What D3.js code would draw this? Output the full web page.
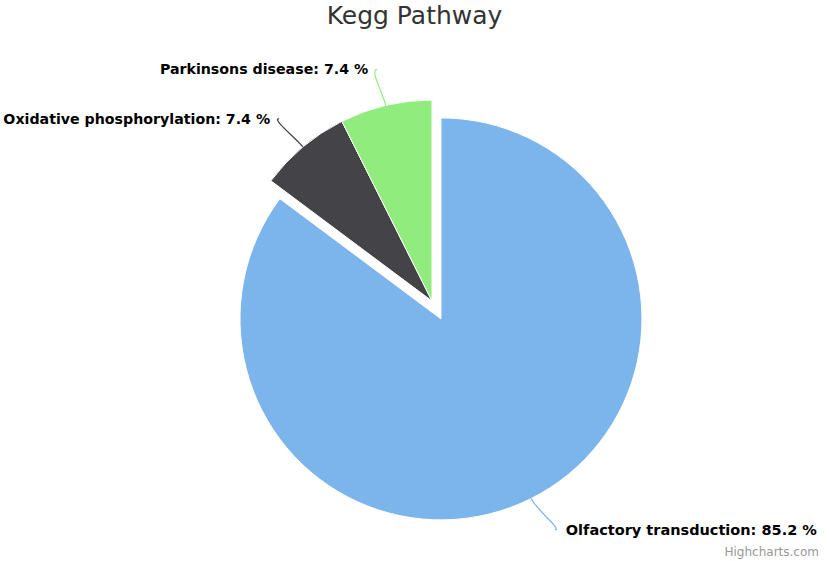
<!DOCTYPE html>
<html>
<head>
<meta charset="utf-8">
<script src="https://cdn.jsdelivr.net/npm/d3@7"></script>
<style>
  body { margin: 0; background: #fff; }
  svg { display: block; font-family: "DejaVu Sans", sans-serif; }
</style>
</head>
<body>
<div id="chart"><svg width="829" height="561"></svg></div>
<script>
// Data
let names = ["Olfactory transduction", "Oxidative phosphorylation", "Parkinsons disease"];
let shares = [85.2, 7.4, 7.4];
let colors = ["#7cb5ec", "#434348", "#90ed7d"];
let sliced = [true, false, false];

let svg = d3.select("div#chart svg"),
  width = +svg.attr("width"),
  height = +svg.attr("height");

let cx = 432, cy = 301, radius = 201, slicedOffset = 20, labelRadius = 238, labelShift = 4;

let data = names.map((n, i) => ({ name: n, y: shares[i], color: colors[i], sliced: sliced[i] }));

let pie = d3.pie().sort(null).value(d => d.y);
let arc = d3.arc().innerRadius(0).outerRadius(radius);
let arcs = pie(data);

// Title
svg.append("text")
  .attr("x", width / 2)
  .attr("y", 24)
  .attr("text-anchor", "middle")
  .style("font-size", "25px")
  .style("fill", "#333333")
  .text("Kegg Pathway");

let g = svg.append("g").attr("transform", "translate(" + cx + "," + cy + ")");

// helper: point along the middle angle of a slice
let mid = d => (d.startAngle + d.endAngle) / 2;
let offsetOf = d => d.data.sliced ? slicedOffset : 0;
let polar = (d, r) => {
  let a = mid(d), o = offsetOf(d);
  return [Math.sin(a) * (r + o), -Math.cos(a) * (r + o)];
};

// Slices
g.selectAll("path.slice")
  .data(arcs)
  .enter()
  .append("path")
    .attr("class", "slice")
    .attr("transform", d => {
      let a = mid(d), o = offsetOf(d);
      return "translate(" + (Math.sin(a) * o) + "," + (-Math.cos(a) * o) + ")";
    })
    .attr("d", arc)
    .attr("fill", d => d.data.color)
    .attr("stroke", "#ffffff")
    .attr("stroke-width", 1)
    .attr("stroke-linejoin", "round");

// Connectors + labels
arcs.forEach(d => {
  let a = mid(d), o = offsetOf(d);
  let side = Math.sin(a) >= 0 ? 1 : -1;
  let edge = polar(d, radius);
  let near = polar(d, radius + 14);
  let lab = [Math.sin(a) * labelRadius + Math.sin(a) * o * 0.9 + labelShift, -Math.cos(a) * labelRadius - Math.cos(a) * o * 0.9];
  let start = [lab[0] + side * 4, lab[1]];

  g.append("path")
    .attr("d", "M" + start[0] + "," + start[1] +
      " C" + (start[0] + side * 8) + "," + start[1] +
      " " + near[0] + "," + near[1] +
      " " + edge[0] + "," + edge[1])
    .attr("fill", "none")
    .attr("stroke", d.data.color)
    .attr("stroke-width", 1.2);

  g.append("text")
    .attr("x", start[0] + side * (side > 0 ? 11 : 9))
    .attr("y", start[1])
    .attr("dy", "0.35em")
    .attr("text-anchor", side > 0 ? "start" : "end")
    .style("font-size", side > 0 ? "14.5px" : "14.2px")
    .style("font-weight", "bold")
    .style("fill", "#000000")
    .text(d.data.name + ": " + d3.format(".1f")(d.data.y) + " %");
});

// Credits
svg.append("text")
  .attr("x", width - 10)
  .attr("y", height - 5)
  .attr("text-anchor", "end")
  .style("font-size", "12px")
  .style("fill", "#999999")
  .text("Highcharts.com");
</script>
</body>
</html>
